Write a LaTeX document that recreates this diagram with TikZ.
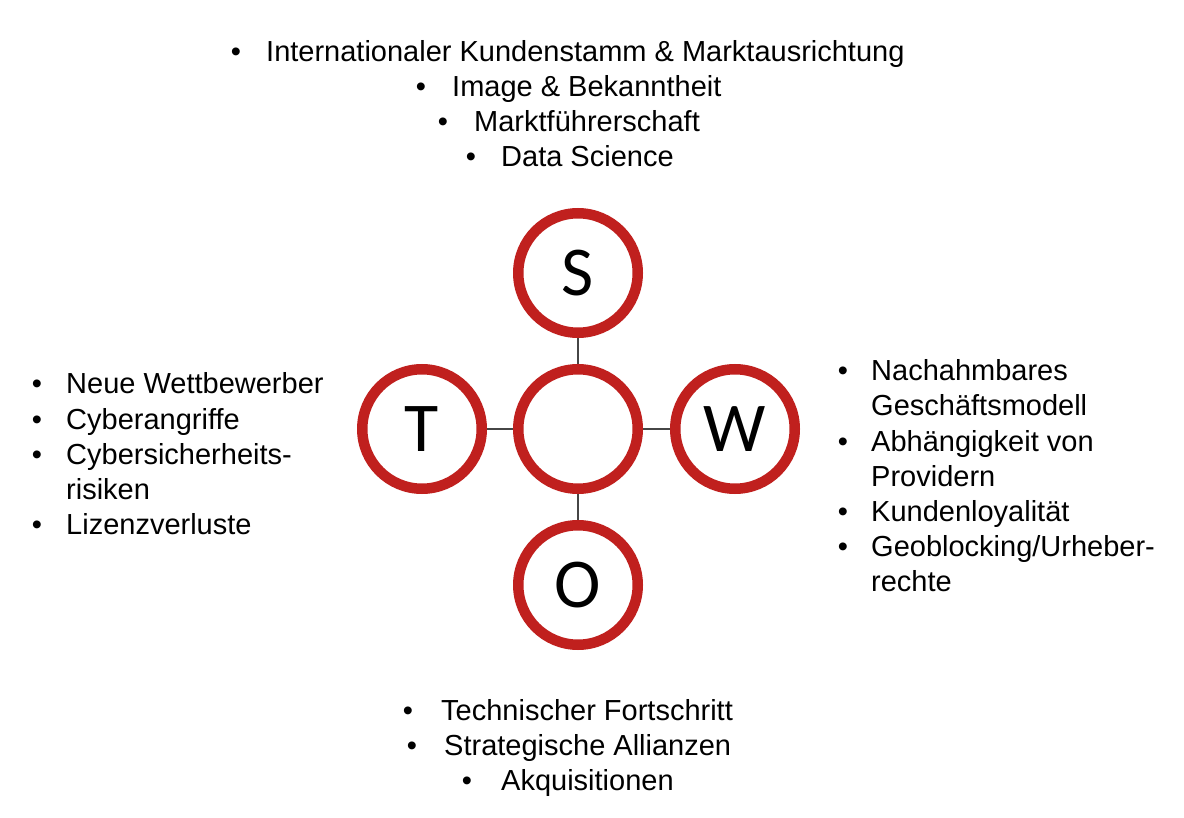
\documentclass[tikz,border=0pt]{standalone}
\usepackage{fontspec}
\setmainfont{Liberation Sans}
\newfontfamily\letterfont{Carlito}
\definecolor{ringred}{RGB}{192,32,30}
\definecolor{linkgray}{RGB}{70,70,70}

% one bulleted line: name, bullet x, text x, baseline y, text
\newcommand{\bitem}[5]{%
  \node[bul] (#1b) at (#2,#4) {\textbullet};
  \node[txt] (#1) at (#3,#4) {#5};}

\begin{document}
\begin{tikzpicture}[x=1pt,y=-1pt,
  ring/.style={circle,draw=ringred,line width=10.5pt,fill=white,
    minimum size=119.5pt,inner sep=0pt,font=\letterfont\fontsize{70}{70}\selectfont},
  link/.style={draw=linkgray,line width=2pt},
  txt/.style={anchor=base west,inner sep=0pt,font=\fontsize{29}{35}\selectfont},
  bul/.style={anchor=base,inner sep=0pt,font=\fontsize{29}{35}\selectfont}]
\useasboundingbox (0,0) rectangle (1184,818);

% connectors behind the rings
\coordinate (cC) at (578,429);
\draw[link] (578,273) -- (cC) -- (578,585);
\draw[link] (422,429) -- (cC) -- (735,429);

% the five rings
\node[ring] (C) at (578,429) {};
\node[ring] (S) at (578,273) {S};
\node[ring] (O) at (578,585) {O};
\node[ring] (T) at (422,429) {T};
\node[ring] (W) at (735,429) {W};

% strengths
\bitem{s1}{236}{266}{62}{Internationaler Kundenstamm \& Marktausrichtung}
\bitem{s2}{421}{452}{97}{Image \& Bekanntheit}
\bitem{s3}{443}{474}{132}{Marktführerschaft}
\bitem{s4}{471}{501}{167}{Data Science}

% threats
\bitem{t1}{37}{66}{394}{Neue Wettbewerber}
\bitem{t2}{37}{66}{429}{Cyberangriffe}
\bitem{t3}{37}{66}{464}{Cybersicherheits-}
\node[txt] (t3c) at (66,499) {risiken};
\bitem{t4}{37}{66}{534}{Lizenzverluste}

% weaknesses
\bitem{w1}{843}{871}{381}{Nachahmbares}
\node[txt] (w1c) at (871,416) {Geschäftsmodell};
\bitem{w2}{843}{871}{451}{Abhängigkeit von}
\node[txt] (w2c) at (871,486) {Providern};
\bitem{w3}{843}{871}{521}{Kundenloyalität}
\bitem{w4}{843}{871}{556}{Geoblocking/Urheber-}
\node[txt] (w4c) at (871,591) {rechte};

% opportunities
\bitem{o1}{408}{441}{720}{Technischer Fortschritt}
\bitem{o2}{412}{444}{755}{Strategische Allianzen}
\bitem{o3}{467}{501}{790}{Akquisitionen}
\end{tikzpicture}
\end{document}
